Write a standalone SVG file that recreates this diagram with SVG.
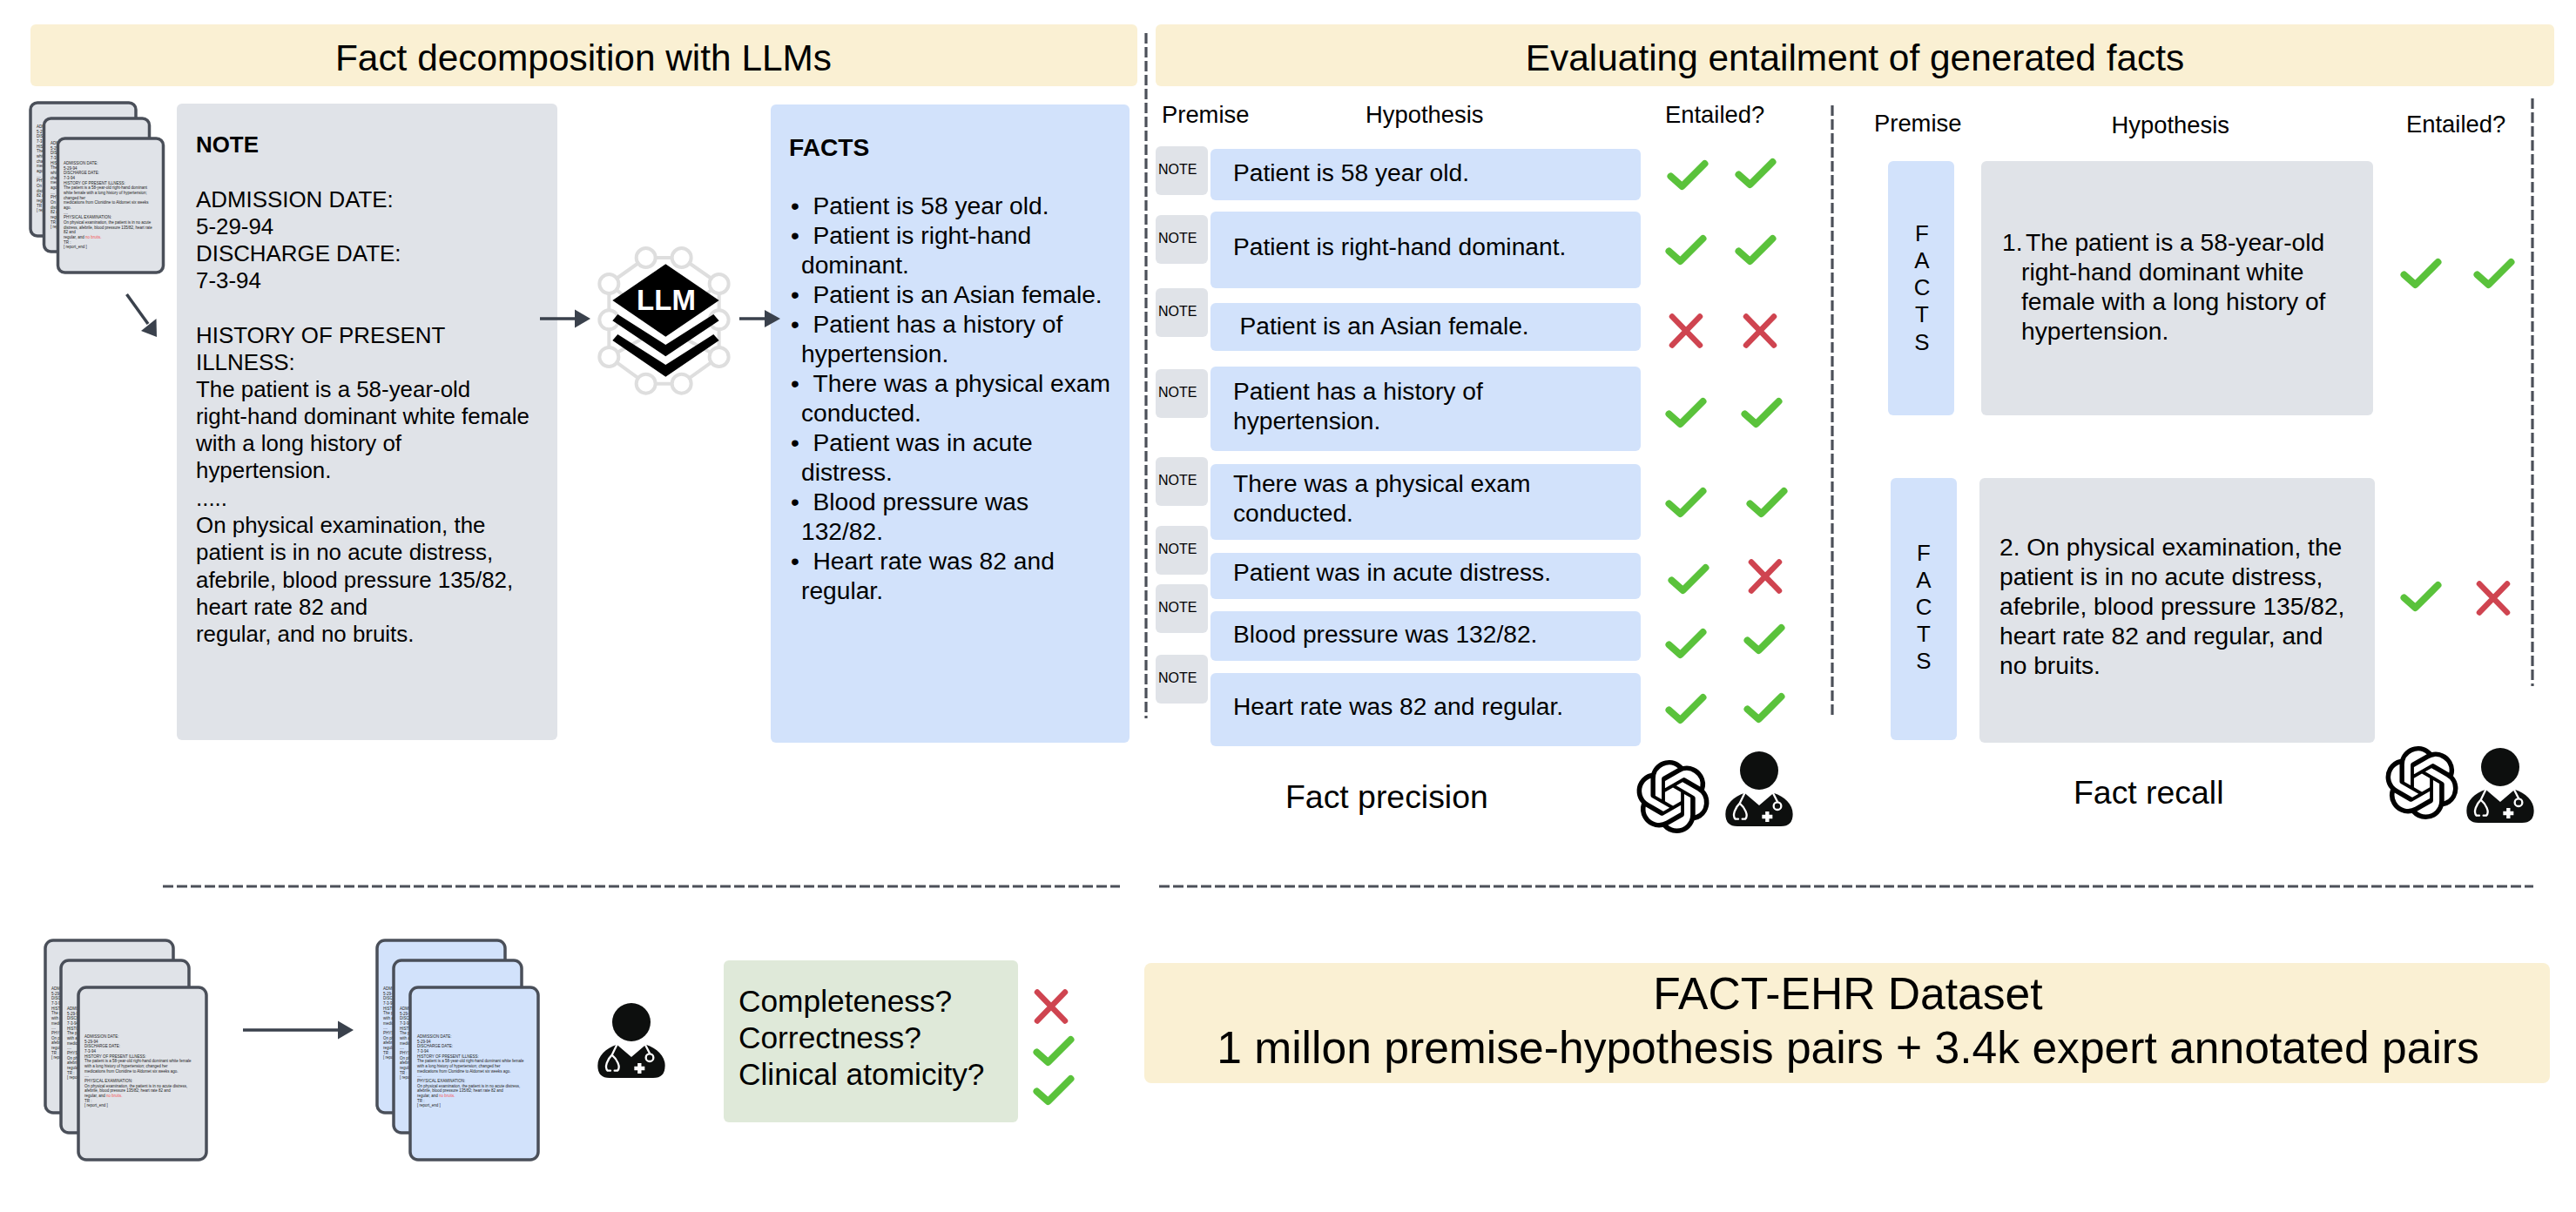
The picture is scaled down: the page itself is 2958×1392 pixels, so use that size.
<svg xmlns="http://www.w3.org/2000/svg" xmlns:xlink="http://www.w3.org/1999/xlink" width="2958" height="1392" viewBox="0 0 2958 1392">
<style>
text{font-family:"Liberation Sans",Arial,sans-serif;fill:#000}
.h{font-size:42.4px;text-anchor:middle}
.b26{font-size:25.9px}
.b28{font-size:28.2px}
.b27{font-size:27.4px}
.bold{font-weight:700}
.n{font-size:16px}
.c{text-anchor:middle}
.big{font-size:51.6px;text-anchor:middle}
.tiny{font-size:4.5px;fill:#222}
.tiny .r{fill:#f25555}
.yellow{fill:#faf0d3}
.gray{fill:#e0e3e8}
.blue{fill:#d2e2fb}
.green{fill:#dfe9d9}
.doc{stroke:#4a4f59;stroke-width:3.5}
.dash{fill:none;stroke:#4c5059;stroke-width:3.2;stroke-dasharray:12 4}
.line{fill:none;stroke:#3a414c;stroke-width:3.5}
.head{fill:#3a414c}
.check{fill:none;stroke:#5ac23b;stroke-width:8;stroke-linecap:round;stroke-linejoin:round}
.cross{fill:none;stroke:#cf4450;stroke-width:6.5;stroke-linecap:round}
</style>
<defs>
<path id="check" class="check" d="M-19.500,1.500 L-6.500,13 L19.500,-13"/>
<path id="cross" class="cross" d="M-16,-16.5 L16,16.5 M16,-16.5 L-16,16.5"/>
<path id="openai" transform="translate(-12,-12)" d="M22.2819 9.8211a5.9847 5.9847 0 0 0-.5157-4.9108 6.0462 6.0462 0 0 0-6.5098-2.9A6.0651 6.0651 0 0 0 4.9807 4.1818a5.9847 5.9847 0 0 0-3.9977 2.9 6.0462 6.0462 0 0 0 .7427 7.0966 5.98 5.98 0 0 0 .511 4.9107 6.051 6.051 0 0 0 6.5146 2.9001A5.9847 5.9847 0 0 0 13.2599 24a6.0557 6.0557 0 0 0 5.7718-4.2058 5.9894 5.9894 0 0 0 3.9977-2.9001 6.0557 6.0557 0 0 0-.7475-7.0729zm-9.022 12.6081a4.4755 4.4755 0 0 1-2.8764-1.0408l.1419-.0804 4.7783-2.7582a.7948.7948 0 0 0 .3927-.6813v-6.7369l2.02 1.1686a.071.071 0 0 1 .038.052v5.5826a4.504 4.504 0 0 1-4.4945 4.4944zm-9.6607-4.1254a4.4708 4.4708 0 0 1-.5346-3.0137l.142.0852 4.783 2.7582a.7712.7712 0 0 0 .7806 0l5.8428-3.3685v2.3324a.0804.0804 0 0 1-.0332.0615L9.74 19.9502a4.4992 4.4992 0 0 1-6.1408-1.6464zM2.3408 7.8956a4.485 4.485 0 0 1 2.3655-1.9728V11.6a.7664.7664 0 0 0 .3879.6765l5.8144 3.3543-2.0201 1.1685a.0757.0757 0 0 1-.071 0l-4.8303-2.7865A4.504 4.504 0 0 1 2.3408 7.872zm16.5963 3.8558L13.1038 8.364 15.1192 7.2a.0757.0757 0 0 1 .071 0l4.8303 2.7913a4.4944 4.4944 0 0 1-.6765 8.1042v-5.6772a.79.79 0 0 0-.407-.667zm2.0107-3.0231l-.142-.0852-4.7735-2.7818a.7759.7759 0 0 0-.7854 0L9.409 9.2297V6.8974a.0662.0662 0 0 1 .0284-.0615l4.8303-2.7866a4.4992 4.4992 0 0 1 6.6802 4.66zM8.3065 12.863l-2.02-1.1638a.0804.0804 0 0 1-.038-.0567V6.0742a4.4992 4.4992 0 0 1 7.3757-3.4537l-.142.0805L8.704 5.459a.7948.7948 0 0 0-.3927.6813zm1.0976-2.3654l2.602-1.4998 2.6069 1.4998v2.9994l-2.5974 1.4997-2.6067-1.4997Z"/>
<g id="doctor" transform="scale(0.3333) translate(-540,-135)">
<circle cx="540" cy="135" r="66" fill="#0d0f0e"/>
<path fill="#0d0f0e" d="M424,285 C424,250 452,225 490,212 L540,255 L590,212 C628,225 656,250 656,285 Q656,327 615,327 L465,327 Q424,327 424,285Z"/>
<g fill="none" stroke="#fff" stroke-width="7" stroke-linecap="round">
<path d="M490,213 L473,248 C458,262 446,290 458,302 L468,302 M473,248 C490,262 505,290 492,302 L482,302"/>
<path d="M588,213 L603,242"/>
<circle cx="603" cy="257" r="13"/>
<path stroke-width="13" stroke-linecap="butt" d="M568,276 V312 M550,294 H586"/>
</g>
</g>
<g id="tinyTop" class="tiny">
<text class="tiny" y="0">ADMISSION DATE:</text>
<text class="tiny" y="5.67">5-29-94</text>
<text class="tiny" y="11.33">DISCHARGE DATE:</text>
<text class="tiny" y="17">7-3-94</text>
<text class="tiny" y="22.67">HISTORY OF PRESENT ILLNESS:</text>
<text class="tiny" y="28.33">The patient is a 58-year-old right-hand dominant</text>
<text class="tiny" y="34">white female with a long history of hypertension;</text>
<text class="tiny" y="39.67">changed her</text>
<text class="tiny" y="45.33">medications from Clonidine to Aldomet six weeks</text>
<text class="tiny" y="51">ago.</text>
<text class="tiny" y="56.67">....</text>
<text class="tiny" y="62.33">PHYSICAL EXAMINATION:</text>
<text class="tiny" y="68">On physical examination, the patient is in no acute</text>
<text class="tiny" y="73.67">distress, afebrile, blood pressure 135/82, heart rate</text>
<text class="tiny" y="79.33">82 and</text>
<text class="tiny" y="85">regular, and <tspan class="r">no bruits.</tspan></text>
<text class="tiny" y="90.67">TR :</text>
<text class="tiny" y="96.33">[ report_end ]</text>
</g>
<g id="tinyBottom">
<text class="tiny" y="0">ADMISSION DATE:</text>
<text class="tiny" y="5.67">5-29-94</text>
<text class="tiny" y="11.33">DISCHARGE DATE:</text>
<text class="tiny" y="17">7-3-94</text>
<text class="tiny" y="22.67">HISTORY OF PRESENT ILLNESS:</text>
<text class="tiny" y="28.33">The patient is a 58-year-old right-hand dominant white female</text>
<text class="tiny" y="34">with a long history of hypertension; changed her</text>
<text class="tiny" y="39.67">medications from Clonidine to Aldomet six weeks ago.</text>
<text class="tiny" y="45.33">....</text>
<text class="tiny" y="51">PHYSICAL EXAMINATION:</text>
<text class="tiny" y="56.67">On physical examination, the patient is in no acute distress,</text>
<text class="tiny" y="62.33">afebrile, blood pressure 135/82; heart rate 82 and</text>
<text class="tiny" y="68">regular, and <tspan class="r">no bruits.</tspan></text>
<text class="tiny" y="73.67">TR :</text>
<text class="tiny" y="79.33">[ report_end ]</text>
</g>
</defs>

<g id="header-decomposition">
<rect class="yellow" x="35" y="28" width="1271" height="71" rx="6"/>
<text class="h" x="670" y="81">Fact decomposition with LLMs</text>
</g>
<g id="header-entailment">
<rect class="yellow" x="1327" y="28" width="1606" height="71" rx="6"/>
<text class="h" x="2130" y="81">Evaluating entailment of generated facts</text>
</g>

<g id="note-stack">
<rect class="gray doc" x="35" y="118" width="121" height="153" rx="8"/>
<use href="#tinyTop" x="42" y="147"/>
<rect class="gray doc" x="50.500" y="136" width="121" height="153" rx="8"/>
<use href="#tinyTop" x="58" y="166"/>
<rect class="gray doc" x="66.500" y="159" width="121" height="154" rx="8"/>
<use href="#tinyTop" x="73" y="189"/>
</g>

<g id="note">
<rect class="gray" x="203" y="119" width="437" height="731" rx="6"/>
<text class="b26 bold" x="225" y="175">NOTE</text>
<text class="b26" x="225" y="238">ADMISSION DATE:</text>
<text class="b26" x="225" y="269">5-29-94</text>
<text class="b26" x="225" y="300">DISCHARGE DATE:</text>
<text class="b26" x="225" y="331">7-3-94</text>
<text class="b26" x="225" y="394">HISTORY OF PRESENT</text>
<text class="b26" x="225" y="425">ILLNESS:</text>
<text class="b26" x="225" y="456">The patient is a 58-year-old</text>
<text class="b26" x="225" y="487">right-hand dominant white female</text>
<text class="b26" x="225" y="518">with a long history of</text>
<text class="b26" x="225" y="549">hypertension.</text>
<text class="b26" x="225" y="581">.....</text>
<text class="b26" x="225" y="612">On physical examination, the</text>
<text class="b26" x="225" y="643">patient is in no acute distress,</text>
<text class="b26" x="225" y="675">afebrile, blood pressure 135/82,</text>
<text class="b26" x="225" y="706">heart rate 82 and</text>
<text class="b26" x="225" y="737">regular, and no bruits.</text>
</g>

<g id="llm" transform="translate(660,260) scale(0.3333)">
<g fill="none" stroke="#dedede" stroke-width="12">
<path d="M245,108 L368,108 M245,542 L368,542 M118,198 L245,108 M497,198 L368,108 M118,450 L245,542 M497,450 L368,542 M118,198 V322 M118,322 V450 M497,198 V322 M497,322 V450 M118,198 L245,300 M497,198 L368,300 M118,450 L245,380 M497,450 L368,380"/>
<g fill="#fff">
<circle cx="245" cy="108" r="33"/><circle cx="368" cy="108" r="33"/>
<circle cx="118" cy="198" r="33"/><circle cx="497" cy="198" r="33"/>
<circle cx="118" cy="322" r="33"/><circle cx="497" cy="322" r="33"/>
<circle cx="118" cy="450" r="33"/><circle cx="497" cy="450" r="33"/>
<circle cx="245" cy="542" r="33"/><circle cx="368" cy="542" r="33"/>
</g>
</g>
<path fill="#000" d="M313,130 L497,255 L313,380 L130,255Z"/>
<path fill="#000" d="M130,325 L148,303 L313,408 L478,303 L497,325 L313,448Z"/>
<path fill="#000" d="M130,393 L148,372 L313,477 L478,372 L497,393 L313,518Z"/>
<text x="315" y="288" font-size="99" font-weight="700" text-anchor="middle" style="fill:#fff">LLM</text>
</g>

<g id="facts">
<rect class="blue" x="885" y="120" width="412" height="733" rx="6"/>
<text class="b28 bold" x="906" y="179">FACTS</text>
<g class="b28">
<text x="908" y="246">•</text><text x="933.500" y="246">Patient is 58 year old.</text>
<text x="908" y="280">•</text><text x="933.500" y="280">Patient is right-hand</text>
<text x="920" y="314">dominant.</text>
<text x="908" y="348">•</text><text x="933.500" y="348">Patient is an Asian female.</text>
<text x="908" y="382">•</text><text x="933.500" y="382">Patient has a history of</text>
<text x="920" y="416">hypertension.</text>
<text x="908" y="450">•</text><text x="933.500" y="450">There was a physical exam</text>
<text x="920" y="484">conducted.</text>
<text x="908" y="518">•</text><text x="933.500" y="518">Patient was in acute</text>
<text x="920" y="552">distress.</text>
<text x="908" y="586">•</text><text x="933.500" y="586">Blood pressure was</text>
<text x="920" y="620">132/82.</text>
<text x="908" y="654">•</text><text x="933.500" y="654">Heart rate was 82 and</text>
<text x="920" y="688">regular.</text>
</g>
</g>

<g id="precision-head" class="b27">
<text x="1334" y="141">Premise</text>
<text x="1568" y="141">Hypothesis</text>
<text x="1912" y="141">Entailed?</text>
</g>

<g id="precision-row-1">
<rect class="gray" x="1327" y="168" width="60" height="56" rx="6"/><text class="n" x="1330" y="200">NOTE</text>
<rect class="blue" x="1390" y="171" width="494" height="59" rx="6"/><text class="b28" x="1416" y="208">Patient is 58 year old.</text>
<use href="#check" x="1938" y="201"/><use href="#check" x="2016" y="199"/>
</g>
<g id="precision-row-2">
<rect class="gray" x="1327" y="247" width="60" height="56" rx="6"/><text class="n" x="1330" y="279">NOTE</text>
<rect class="blue" x="1390" y="243" width="494" height="88" rx="6"/><text class="b28" x="1416" y="293">Patient is right-hand dominant.</text>
<use href="#check" x="1936" y="287"/><use href="#check" x="2016" y="287"/>
</g>
<g id="precision-row-3">
<rect class="gray" x="1327" y="331" width="60" height="56" rx="6"/><text class="n" x="1330" y="363">NOTE</text>
<rect class="blue" x="1390" y="348" width="494" height="55" rx="6"/><text class="b28" x="1423.500" y="384">Patient is an Asian female.</text>
<use href="#cross" x="1936" y="380"/><use href="#cross" x="2021" y="380"/>
</g>
<g id="precision-row-4">
<rect class="gray" x="1327" y="424" width="60" height="56" rx="6"/><text class="n" x="1330" y="456">NOTE</text>
<rect class="blue" x="1390" y="421" width="494" height="97" rx="6"/><text class="b28" x="1416" y="459">Patient has a history of</text><text class="b28" x="1416" y="493">hypertension.</text>
<use href="#check" x="1936" y="474"/><use href="#check" x="2023" y="474"/>
</g>
<g id="precision-row-5">
<rect class="gray" x="1327" y="525" width="60" height="56" rx="6"/><text class="n" x="1330" y="557">NOTE</text>
<rect class="blue" x="1390" y="533" width="494" height="87" rx="6"/><text class="b28" x="1416" y="565">There was a physical exam</text><text class="b28" x="1416" y="599">conducted.</text>
<use href="#check" x="1936" y="577"/><use href="#check" x="2029" y="577"/>
</g>
<g id="precision-row-6">
<rect class="gray" x="1327" y="604" width="60" height="56" rx="6"/><text class="n" x="1330" y="636">NOTE</text>
<rect class="blue" x="1390" y="635" width="494" height="53" rx="6"/><text class="b28" x="1416" y="667">Patient was in acute distress.</text>
<use href="#check" x="1939" y="665"/><use href="#cross" x="2027" y="662"/>
</g>
<g id="precision-row-7">
<rect class="gray" x="1327" y="671" width="60" height="56" rx="6"/><text class="n" x="1330" y="703">NOTE</text>
<rect class="blue" x="1390" y="702" width="494" height="57" rx="6"/><text class="b28" x="1416" y="738">Blood pressure was 132/82.</text>
<use href="#check" x="1936" y="739"/><use href="#check" x="2026" y="734"/>
</g>
<g id="precision-row-8">
<rect class="gray" x="1327" y="752" width="60" height="56" rx="6"/><text class="n" x="1330" y="784">NOTE</text>
<rect class="blue" x="1390" y="773" width="494" height="84" rx="6"/><text class="b28" x="1416" y="821">Heart rate was 82 and regular.</text>
<use href="#check" x="1936" y="814"/><use href="#check" x="2026" y="813"/>
</g>

<g id="fact-precision">
<text x="1476" y="928" font-size="37.4">Fact precision</text>
<use href="#openai" transform="translate(1921,915) scale(3.5)"/>
<use href="#doctor" transform="translate(2020,885)"/>
</g>

<g id="recall-head" class="b27">
<text x="2152" y="151">Premise</text>
<text x="2424.500" y="153">Hypothesis</text>
<text x="2763" y="152">Entailed?</text>
</g>

<g id="recall-1">
<rect class="blue" x="2168" y="185" width="76" height="292" rx="6"/>
<g class="b26"><text class="c" x="2207" y="277">F</text><text class="c" x="2207" y="308">A</text><text class="c" x="2207" y="339">C</text><text class="c" x="2207" y="370">T</text><text class="c" x="2207" y="402">S</text></g>
<rect class="gray" x="2275" y="185" width="450" height="292" rx="6"/>
<g class="b28"><text x="2299" y="288">1.</text><text x="2326" y="288">The patient is a 58-year-old</text><text x="2321" y="322">right-hand dominant white</text><text x="2321" y="356">female with a long history of</text><text x="2321" y="390">hypertension.</text></g>
<use href="#check" x="2780" y="314"/><use href="#check" x="2864" y="314"/>
</g>
<g id="recall-2">
<rect class="blue" x="2171" y="549" width="76" height="301" rx="6"/>
<g class="b26"><text class="c" x="2209" y="644">F</text><text class="c" x="2209" y="675">A</text><text class="c" x="2209" y="706">C</text><text class="c" x="2209" y="737">T</text><text class="c" x="2209" y="768">S</text></g>
<rect class="gray" x="2273" y="549" width="454" height="304" rx="6"/>
<g class="b28"><text x="2296" y="638">2. On physical examination, the</text><text x="2296" y="672">patient is in no acute distress,</text><text x="2296" y="706">afebrile, blood pressure 135/82,</text><text x="2296" y="740">heart rate 82 and regular, and</text><text x="2296" y="774">no bruits.</text></g>
<use href="#check" x="2780" y="685"/><use href="#cross" x="2863" y="687"/>
</g>

<g id="fact-recall">
<text x="2381" y="923" font-size="37.4">Fact recall</text>
<use href="#openai" transform="translate(2781,899) scale(3.5)"/>
<use href="#doctor" transform="translate(2871,881)"/>
</g>

<g id="source-stack">
<rect class="gray doc" x="52" y="1080" width="147" height="198" rx="9"/>
<use href="#tinyBottom" x="59" y="1137"/>
<rect class="gray doc" x="70" y="1103" width="147" height="198" rx="9"/>
<use href="#tinyBottom" x="77" y="1160"/>
<rect class="gray doc" x="90" y="1134" width="147" height="198" rx="9"/>
<use href="#tinyBottom" x="97" y="1192"/>
</g>
<g id="facts-stack">
<rect class="blue doc" x="433" y="1080" width="147" height="198" rx="9"/>
<use href="#tinyBottom" x="440" y="1137"/>
<rect class="blue doc" x="452" y="1103" width="147" height="198" rx="9"/>
<use href="#tinyBottom" x="459" y="1160"/>
<rect class="blue doc" x="471" y="1134" width="147" height="198" rx="9"/>
<use href="#tinyBottom" x="479" y="1192"/>
</g>
<g id="annotator"><use href="#doctor" transform="translate(725,1174)"/></g>
<g id="criteria">
<rect class="green" x="831" y="1103" width="338" height="186" rx="6"/>
<text x="848" y="1162" font-size="35.3">Completeness?</text>
<text x="848" y="1204" font-size="35.3">Correctness?</text>
<text x="848" y="1246" font-size="35.3">Clinical atomicity?</text>
<use href="#cross" x="1207" y="1156"/>
<use href="#check" x="1210" y="1207"/>
<use href="#check" x="1210" y="1252"/>
</g>
<g id="dataset">
<rect class="yellow" x="1314" y="1106" width="1614" height="138" rx="8"/>
<text class="big" x="2122" y="1159">FACT-EHR Dataset</text>
<text class="big" x="2122" y="1221">1 millon premise-hypothesis pairs + 3.4k expert annotated pairs</text>
</g>

<g id="connectors">
<path class="dash" d="M1316,38 V825"/>
<path class="dash" d="M2104,121 V825"/>
<path class="dash" d="M2908,113 V788"/>
<path class="dash" d="M187,1018 H1286"/>
<path class="dash" d="M1331,1018 H2909"/>
<path class="line" d="M145.500,338 L170,372"/>
<path class="head" d="M180,387 L162,380 L179.500,366Z"/>
<path class="line" d="M620,366 H662"/>
<path class="head" d="M678,366 L660,355.500 V376.500Z"/>
<path class="line" d="M849,366 H880"/>
<path class="head" d="M896,366 L878,356 V376Z"/>
<path class="line" d="M279,1183 H390"/>
<path class="head" d="M406,1183 L388,1172.500 V1193.500Z"/>
</g>
</svg>
